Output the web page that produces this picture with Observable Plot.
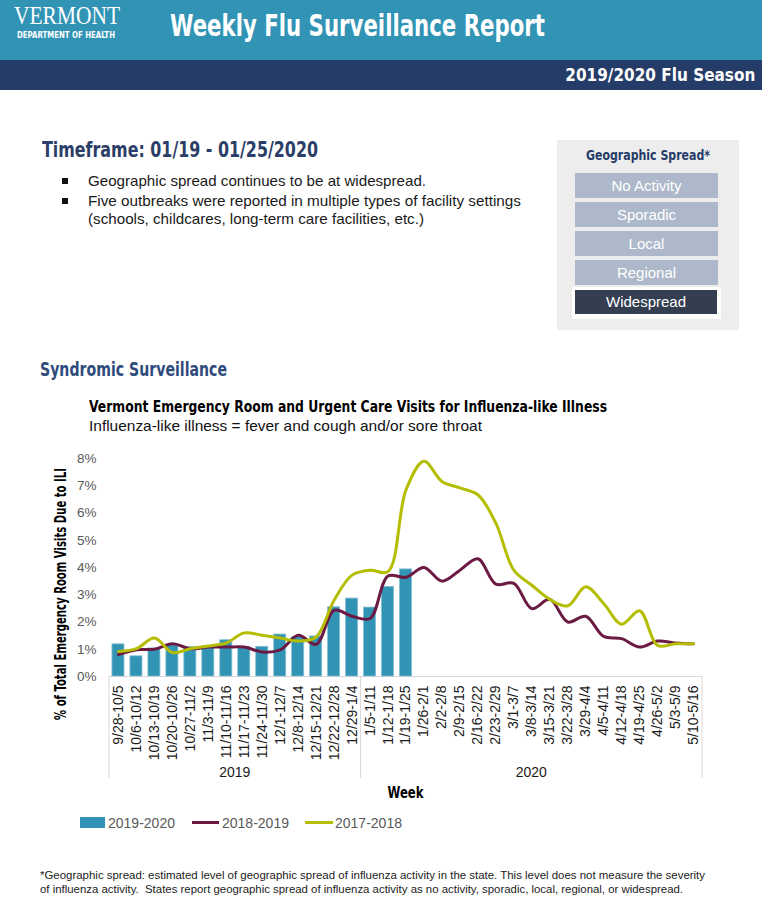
<!DOCTYPE html>
<html>
<head>
<meta charset="utf-8">
<script src="https://cdn.jsdelivr.net/npm/d3@7"></script>
<script src="https://cdn.jsdelivr.net/npm/@observablehq/plot@0.6"></script>
<style>
  html, body { margin: 0; padding: 0; background: #fff; }
  #page { position: relative; width: 762px; height: 907px; overflow: hidden; font-family: "Liberation Sans", Arial, sans-serif; }
  .abs { position: absolute; white-space: nowrap; }
  .cond { font-family: "Liberation Sans Narrow", "DejaVu Sans Condensed", "Liberation Sans", sans-serif; font-stretch: condensed; }
  .fit { transform-origin: left center; }
  .fitr { transform-origin: right center; }
  .fitc { transform-origin: center center; }
  .lvl { position: absolute; left: 575px; width: 143px; height: 25px; background: #ADB9CA; color: #fff; font-size: 15px; line-height: 25px; text-align: center; }
  #chart { position: absolute; left: 0; top: 440px; }
  .leg { position: absolute; top: 814px; font-size: 14px; color: #595959; line-height: 18px; }
</style>
</head>
<body>
<div id="page">
  <div class="abs" style="left:0;top:0;width:762px;height:60px;background:#3294B5;"></div>
  <div class="abs" style="left:0;top:60px;width:762px;height:30px;background:#263C68;"></div>
  <div class="abs fit" data-w="106" style="left:14px;top:3px;font-family:'Liberation Serif',serif;font-size:25px;line-height:25px;color:#fff;">VERMONT</div>
  <div class="abs fit cond" data-w="98" style="left:17px;top:30px;font-size:9px;line-height:10px;font-weight:bold;color:#fff;">DEPARTMENT OF HEALTH</div>
  <div class="abs fit cond" data-w="375" style="left:170px;top:9px;font-size:31px;line-height:32px;font-weight:bold;color:#fff;">Weekly Flu Surveillance Report</div>
  <div class="abs fitr cond" data-w="190" style="right:7px;top:64px;font-size:18px;line-height:22px;font-weight:bold;color:#fff;">2019/2020 Flu Season</div>

  <div class="abs fit cond" data-w="276" style="left:42px;top:138px;font-size:21px;line-height:24px;font-weight:bold;color:#2B3E67;">Timeframe: 01/19 - 01/25/2020</div>
  <div class="abs" style="left:62px;top:178px;width:6px;height:6px;background:#111;"></div>
  <div class="abs" style="left:62px;top:198px;width:6px;height:6px;background:#111;"></div>
  <div class="abs fit" data-w="338" style="left:88px;top:172px;font-size:14.5px;line-height:18px;color:#1a1a1a;">Geographic spread continues to be at widespread.</div>
  <div class="abs fit" data-w="433" style="left:88px;top:192px;font-size:14.5px;line-height:18px;color:#1a1a1a;">Five outbreaks were reported in multiple types of facility settings</div>
  <div class="abs fit" data-w="336" style="left:88px;top:210px;font-size:14.5px;line-height:18px;color:#1a1a1a;">(schools, childcares, long-term care facilities, etc.)</div>

  <div class="abs" style="left:557px;top:140px;width:182px;height:190px;background:#EDEDED;"></div>
  <div class="abs fitc cond" data-w="124" style="left:548px;width:200px;text-align:center;top:146px;font-size:14px;line-height:18px;font-weight:bold;color:#263C68;"><span>Geographic Spread*</span></div>
  <div class="lvl" style="top:173px;">No Activity</div>
  <div class="lvl" style="top:202px;">Sporadic</div>
  <div class="lvl" style="top:231px;">Local</div>
  <div class="lvl" style="top:260px;">Regional</div>
  <div class="abs" style="left:572px;top:287px;width:149px;height:32px;background:#fff;"></div>
  <div class="lvl" style="top:290px;left:575px;width:142px;height:24px;line-height:24px;background:#333F50;">Widespread</div>

  <div class="abs fit cond" data-w="187" style="left:40px;top:357px;font-size:20px;line-height:24px;font-weight:bold;color:#2F4B7C;">Syndromic Surveillance</div>
  <div class="abs fit cond" data-w="518" style="left:89px;top:397px;font-size:16px;line-height:20px;font-weight:bold;color:#000;">Vermont Emergency Room and Urgent Care Visits for Influenza-like Illness</div>
  <div class="abs fit" data-w="393" style="left:89px;top:416px;font-size:15px;line-height:20px;color:#111;">Influenza-like illness = fever and cough and/or sore throat</div>

  <div id="chart"></div>

  <div class="abs" style="left:80px;top:817px;width:25px;height:11px;background:#3194B4;"></div>
  <div class="leg" style="left:108px;">2019-2020</div>
  <div class="abs" style="left:192px;top:821px;width:27px;height:3px;background:#6B1A44;"></div>
  <div class="leg" style="left:222px;">2018-2019</div>
  <div class="abs" style="left:305px;top:821px;width:28px;height:3px;background:#B5BD00;"></div>
  <div class="leg" style="left:335px;">2017-2018</div>

  <div class="abs fit" data-w="665" style="left:40px;top:868px;font-size:11.5px;line-height:14px;color:#222;">*Geographic spread: estimated level of geographic spread of influenza activity in the state. This level does not measure the severity</div>
  <div class="abs fit" data-w="643" style="left:40px;top:882px;font-size:11.5px;line-height:14px;color:#222;">of influenza activity.&nbsp; States report geographic spread of influenza activity as no activity, sporadic, local, regional, or widespread.</div>
</div>
<script>
// ---------- data ----------
const weeks = ["9/28-10/5","10/6-10/12","10/13-10/19","10/20-10/26","10/27-11/2","11/3-11/9","11/10-11/16","11/17-11/23","11/24-11/30","12/1-12/7","12/8-12/14","12/15-12/21","12/22-12/28","12/29-1/4","1/5-1/11","1/12-1/18","1/19-1/25","1/26-2/1","2/2-2/8","2/9-2/15","2/16-2/22","2/23-2/29","3/1-3/7","3/8-3/14","3/15-3/21","3/22-3/28","3/29-4/4","4/5-4/11","4/12-4/18","4/19-4/25","4/26-5/2","5/3-5/9","5/10-5/16"];
const season2019_2020 = [1.18,0.74,1.03,1.14,1.08,1.10,1.33,1.08,1.09,1.54,1.45,1.47,2.54,2.86,2.53,3.29,3.93];
const season2018_2019 = [0.80,0.98,1.00,1.20,1.02,1.08,1.08,1.08,0.90,0.98,1.51,1.18,2.43,2.21,2.13,3.69,3.64,4.00,3.50,3.90,4.32,3.39,3.42,2.49,2.83,2.00,2.21,1.47,1.39,1.08,1.30,1.23,1.20];
const season2017_2018 = [0.92,1.02,1.41,0.88,1.02,1.12,1.23,1.60,1.51,1.41,1.30,1.45,2.80,3.72,3.90,3.85,6.85,7.90,7.16,6.92,6.67,5.63,3.90,3.35,2.83,2.59,3.29,2.68,1.92,2.41,1.14,1.20,1.20];
const yTicks = [0,1,2,3,4,5,6,7,8];
const years = [
  {year: "2019", first: "9/28-10/5", last: "12/29-1/4"},
  {year: "2020", first: "1/5-1/11", last: "5/10-5/16"}
];
const seriesNames = ["2019-2020","2018-2019","2017-2018"];
const colors = ["#3194B4","#6B1A44","#B5BD00"];

// ---------- table ----------
const bars = season2019_2020.map((v,i) => ({week: weeks[i], value: v}));
const line1819 = season2018_2019.map((v,i) => ({week: weeks[i], value: v}));
const line1718 = season2017_2018.map((v,i) => ({week: weeks[i], value: v}));

const W = 762, H = 365;
const plot = Plot.plot({
  width: W, height: H,
  marginLeft: 109, marginRight: 60, marginTop: 18, marginBottom: 129,
  style: {fontFamily: "'Liberation Sans', Arial, sans-serif", fontSize: "13.5px", background: "transparent", overflow: "visible"},
  x: {domain: weeks, paddingInner: 0.33, paddingOuter: 0.165, label: null, tickRotate: -90, tickSize: 0, tickPadding: 9},
  y: {domain: [0, 8], ticks: yTicks, tickFormat: d => d + "%", tickSize: 0, tickPadding: 13, label: null},
  marks: [
    Plot.ruleY([0], {stroke: "#D9D9D9", strokeWidth: 1}),
    Plot.barY(bars, {x: "week", y: "value", fill: colors[0], stroke: "#86BFD3", strokeWidth: 0.8}),
    Plot.line(line1819, {x: "week", y: "value", stroke: colors[1], strokeWidth: 3, curve: "catmull-rom"}),
    Plot.line(line1718, {x: "week", y: "value", stroke: colors[2], strokeWidth: 3, curve: "catmull-rom"})
  ]
});
document.getElementById("chart").appendChild(plot);

// axis label colours / sizes
const svg = d3.select(plot);
svg.selectAll("[aria-label='y-axis tick label'] text, [aria-label='y-axis'] text").attr("fill", "#595959");
svg.selectAll("[aria-label='x-axis tick label'] text, [aria-label='x-axis'] text").attr("fill", "#1a1a1a").attr("font-size", "14px");

// year group separators and labels, positioned through Plot's x scale
const xs = plot.scale("x"), ys = plot.scale("y");
const bw = xs.bandwidth, step = xs.step;
const gap = (step - bw) / 2;
const y0 = ys.apply(0);
const g = svg.append("g");
years.forEach(gr => {
  const left = xs.apply(gr.first) - gap;
  const right = xs.apply(gr.last) + bw + gap;
  [left, right].forEach(xp => g.append("line").attr("x1", xp).attr("x2", xp).attr("y1", y0).attr("y2", y0 + 102).attr("stroke", "#D9D9D9"));
  g.append("text").attr("x", (left + right) / 2).attr("y", y0 + 101).attr("text-anchor", "middle")
    .attr("font-size", "14px").attr("fill", "#1a1a1a").text(gr.year);
});
g.append("text").attr("x", (xs.range[0] + xs.range[1]) / 2).attr("y", y0 + 122).attr("text-anchor", "middle")
  .attr("class", "cond").attr("font-weight", "bold").attr("font-size", "16px").attr("fill", "#000")
  .attr("textLength", 36).attr("lengthAdjust", "spacingAndGlyphs").text("Week");
g.append("text").attr("transform", `translate(61,${ys.apply(4) + 27}) rotate(-90)`).attr("text-anchor", "middle")
  .attr("dominant-baseline", "middle").attr("class", "cond").attr("font-weight", "bold").attr("font-size", "16px").attr("fill", "#000")
  .attr("textLength", 252).attr("lengthAdjust", "spacingAndGlyphs")
  .text("% of Total Emergency Room Visits Due to ILI");

// fit condensed text blocks to their measured widths
document.querySelectorAll("[data-w]").forEach(el => {
  const target = +el.dataset.w;
  const inner = el.querySelector("span") || el;
  const w = inner.getBoundingClientRect().width;
  if (w > 0) el.style.transform = `scaleX(${target / w})`;
});
</script>
</body>
</html>
